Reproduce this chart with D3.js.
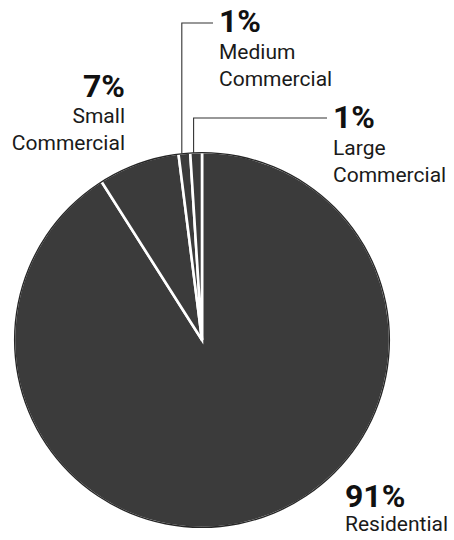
<!DOCTYPE html>
<html>
<head>
<meta charset="utf-8">
<script src="https://cdn.jsdelivr.net/npm/d3@7"></script>
<style>
  html, body { margin: 0; padding: 0; background: #fff; }
  svg { display: block; }
  .pct { font-family: Roboto, "DejaVu Sans", sans-serif; font-weight: 700; font-size: 32px; fill: #111; }
  .name { font-family: Roboto, "DejaVu Sans", sans-serif; font-weight: 400; font-size: 21px; fill: #1a1a1a; }
</style>
</head>
<body>
<svg id="chart" width="454" height="540"></svg>
<script>
// Customer class shares, clockwise from 12 o'clock
const categories = ["Residential", "Small Commercial", "Medium Commercial", "Large Commercial"];
const shares = [91, 7, 1, 1];
const pctLabels = ["91%", "7%", "1%", "1%"];
const nameLines = [["Residential"], ["Small", "Commercial"], ["Medium", "Commercial"], ["Large", "Commercial"]];

const svg = d3.select("#chart");
const cx = 202, cy = 340, R = 188;

const data = categories.map((c, i) => ({ name: c, value: shares[i], pct: pctLabels[i], lines: nameLines[i] }));

const pie = d3.pie().value(d => d.value).sort(null);
const arcs = pie(data);
const arc = d3.arc().innerRadius(0).outerRadius(R);

const g = svg.append("g").attr("transform", `translate(${cx},${cy})`);

g.selectAll("path.slice")
  .data(arcs)
  .join("path")
  .attr("class", "slice")
  .attr("d", arc)
  .attr("fill", "#3b3b3b")
  .attr("stroke", "#fff")
  .attr("stroke-width", 2.6)
  .attr("stroke-linejoin", "miter");

// thin dark rim around the disc
g.append("path")
  .attr("d", d3.arc().innerRadius(R - 1.3).outerRadius(R).startAngle(0).endAngle(2 * Math.PI)())
  .attr("fill", "#262626");

// Label placement for each slice
const layout = {
  "Residential":       { x: 345, y: 507, anchor: "start", gap: 24 },
  "Small Commercial":  { x: 125, y: 97,  anchor: "end",   gap: 26 },
  "Medium Commercial": { x: 219, y: 32,  anchor: "start", gap: 27 },
  "Large Commercial":  { x: 333, y: 128, anchor: "start", gap: 27 }
};

// leader lines for the two thin slices: up from the rim, then across to the label
const leaders = { "Medium Commercial": 23, "Large Commercial": 118 };
arcs.forEach(a => {
  const ly = leaders[a.data.name];
  if (ly === undefined) return;
  const mid = (a.startAngle + a.endAngle) / 2;
  const x0 = cx + R * Math.sin(mid) - 2.5;
  const y0 = cy - R * Math.cos(mid) + 1;
  const lab = layout[a.data.name];
  svg.append("path")
    .attr("d", `M${x0},${y0} V${ly} H${lab.x - 6}`)
    .attr("fill", "none")
    .attr("stroke", "#333")
    .attr("stroke-width", 1.1);
});

arcs.forEach(a => {
  const lab = layout[a.data.name];
  const t = svg.append("g");
  t.append("text")
    .attr("class", "pct")
    .attr("x", lab.x)
    .attr("y", lab.y)
    .attr("text-anchor", lab.anchor)
    .text(a.data.pct);
  a.data.lines.forEach((line, i) => {
    t.append("text")
      .attr("class", "name")
      .attr("x", lab.x)
      .attr("y", lab.y + lab.gap + i * 27)
      .attr("text-anchor", lab.anchor)
      .text(line);
  });
});
</script>
</body>
</html>
